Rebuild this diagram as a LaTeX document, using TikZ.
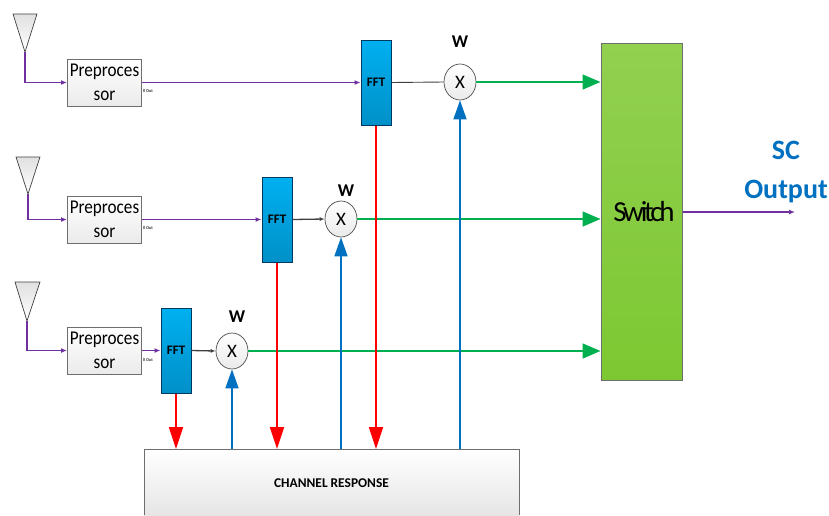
\documentclass[tikz,border=0pt]{standalone}
\usepackage{fontspec}
\setmainfont{Carlito}
\usetikzlibrary{arrows.meta,shapes.geometric}
\definecolor{purp}{HTML}{7030A0}
\definecolor{grn}{HTML}{00B050}
\definecolor{blu}{HTML}{0070C0}
\definecolor{edge}{HTML}{6E6E6E}
\definecolor{ffttop}{HTML}{00B0F0}
\definecolor{fftbot}{HTML}{0090C8}
\definecolor{swtop}{HTML}{92D050}
\definecolor{swbot}{HTML}{7DC832}
\tikzset{
 x=1pt,y=-1pt,
 ant/.style={draw=black!75,line width=0.7pt,top color=black!12,bottom color=white},
 prep/.style={draw=edge,line width=1pt,top color=white,bottom color=black!8,minimum width=74pt,minimum height=47pt,inner sep=0pt},
 preptxt/.style={inner sep=0pt,align=center,xscale=0.88,font=\fontsize{19.5}{24}\selectfont},
 fftbox/.style={draw=black!50!blu,line width=1pt,top color=ffttop,bottom color=fftbot,minimum width=30pt,minimum height=85pt,inner sep=0pt,font=\fontsize{13}{14}\selectfont\bfseries},
 mult/.style={ellipse,draw=black!70,line width=0.7pt,top color=white,bottom color=black!8,minimum width=32pt,minimum height=36pt,inner sep=0pt,font=\fontsize{19}{20}\selectfont},
 wlab/.style={font=\fontsize{18}{19}\selectfont\bfseries,inner sep=0pt},
 tiny/.style={font=\fontsize{4.4}{5}\selectfont\bfseries,text=black!80,inner sep=0pt},
 pline/.style={purp,line width=1.7pt,-{Latex[length=6pt,width=5pt]}},
 kline/.style={black!75,line width=1.3pt,-{Latex[length=5pt,width=4pt]}},
 gline/.style={grn,line width=1.6pt,-{Triangle[length=18pt,width=15pt]}},
 rline/.style={red,line width=1.8pt,-{Triangle[length=22pt,width=14pt]}},
 bline/.style={blu,line width=1.6pt,-{Triangle[length=19pt,width=13pt]}},
}
\begin{document}
\begin{tikzpicture}
\useasboundingbox (0,0) rectangle (829,515);
% antennas
\coordinate (a1) at (25,52); \coordinate (a2) at (28,194); \coordinate (a3) at (27,321);
\path[ant,draw] (13,14) -- (37,14) -- (a1) -- cycle;
\path[ant,draw] (16,157) -- (40,157) -- (a2) -- cycle;
\path[ant,draw] (15,282) -- (40,282) -- (a3) -- cycle;
% blocks
\node[prep] (p1) at (104.5,82.5) {};
\node[prep] (p2) at (104.5,219.5) {};
\node[prep] (p3) at (104.5,350.5) {};
\node[preptxt] (t1) at (104.5,82.5) {Preproces\\sor};
\node[preptxt] (t2) at (104.5,219.5) {Preproces\\sor};
\node[preptxt] (t3) at (104.5,350.5) {Preproces\\sor};
\node[fftbox] (f1) at (376,82.5) {FFT};
\node[fftbox] (f2) at (277,219.5) {FFT};
\node[fftbox] (f3) at (176,350.5) {FFT};
\node[mult] (x1) at (460,82) {X};
\node[mult] (x2) at (341,219) {X};
\node[mult] (x3) at (232,351) {X};
\node[wlab] (w1) at (460,42) {W};
\node[wlab] (w2) at (346,191) {W};
\node[wlab] (w3) at (237,317) {W};
\node[tiny] (o1) at (148,91) {ll Out};
\node[tiny] (o2) at (148,228) {ll Out};
\node[tiny] (o3) at (148,360) {ll Out};
\node[draw=edge,line width=1pt,top color=swtop,bottom color=swbot,minimum width=81pt,minimum height=337pt,inner sep=0pt] (sw) at (641.5,211.5) {};
\node[inner sep=0pt,font=\fontsize{29}{30}\selectfont] (swl) at (644,212) {\addfontfeature{LetterSpace=-11}Switch};
\path[draw=edge,line width=1pt,top color=white,bottom color=black!10] (144,515) -- (144,449) -- (519,449) -- (519,515);
\node[inner sep=0pt,font=\fontsize{13.4}{14}\selectfont\bfseries] (ch) at (331.5,483) {CHANNEL RESPONSE};
\coordinate (chb) at (331.5,449);
\node[inner sep=0pt,align=center,text=blu,font=\fontsize{28}{39}\selectfont\bfseries] (sc) at (786,172) {SC\\Output};
\coordinate (out) at (795,212);
% connectors
\draw[pline] (a1) |- (p1.west);
\draw[pline] (a2) |- (p2.west);
\draw[pline] (a3) |- (p3.west);
\draw[pline] (p1.east) -- (f1.west);
\draw[pline] (p2.east) -- (f2.west);
\draw[pline] (p3.east) -- (f3.west);
\draw[black!75,line width=0.9pt] (f1.east) -- (x1.west);
\draw[kline] (f2.east) -- (x2.west);
\draw[kline] (f3.east) -- (x3.west);
\draw[gline] (x1.east) -- (x1.east -| sw.west);
\draw[gline] (x2.east) -- (x2.east -| sw.west);
\draw[gline] (x3.east) -- (x3.east -| sw.west);
\draw[pline] (sw.east |- out) -- (out);
\draw[rline] (f1.south) -- (f1.south |- chb);
\draw[rline] (f2.south) -- (f2.south |- chb);
\draw[rline] (f3.south) -- (f3.south |- chb);
\draw[bline] (x1.south |- chb) -- (x1.south);
\draw[bline] (x2.south |- chb) -- (x2.south);
\draw[bline] (x3.south |- chb) -- (x3.south);
\end{tikzpicture}
\end{document}
